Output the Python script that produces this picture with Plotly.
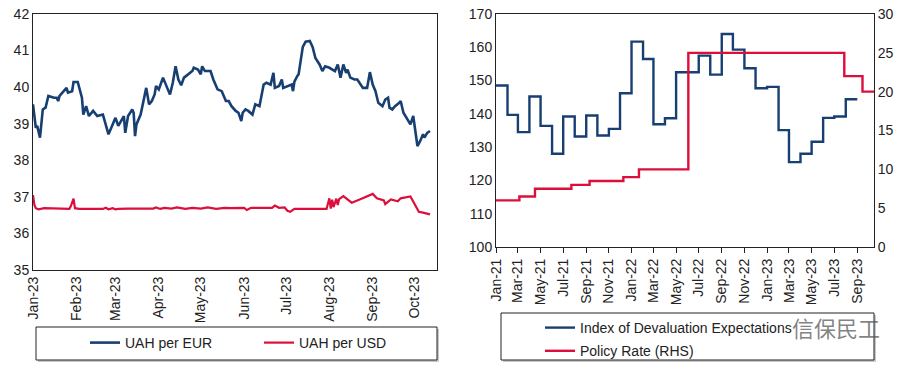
import plotly.graph_objects as go
import pandas as pd

# ---------------- data: left panel (daily FX, 2023) ----------------
eur_dates = ["2023-01-01","2023-01-03","2023-01-04","2023-01-06","2023-01-08","2023-01-10","2023-01-12",
             "2023-01-16","2023-01-18","2023-01-19","2023-01-20","2023-01-25","2023-01-26","2023-01-29",
             "2023-01-30","2023-02-02","2023-02-05","2023-02-06","2023-02-08","2023-02-10","2023-02-13",
             "2023-02-16","2023-02-20","2023-02-24","2023-02-26","2023-03-01","2023-03-03","2023-03-07",
             "2023-03-08","2023-03-10","2023-03-13","2023-03-14","2023-03-15","2023-03-16","2023-03-19",
             "2023-03-21","2023-03-23","2023-03-25","2023-03-27","2023-03-29","2023-03-30","2023-04-01",
             "2023-04-04","2023-04-07","2023-04-09","2023-04-11","2023-04-13","2023-04-15","2023-04-17",
             "2023-04-19","2023-04-22","2023-04-25","2023-04-26","2023-04-29","2023-05-01","2023-05-02",
             "2023-05-04","2023-05-08","2023-05-10","2023-05-13","2023-05-16","2023-05-19","2023-05-21",
             "2023-05-23","2023-05-26","2023-05-28","2023-05-30","2023-05-31","2023-06-02","2023-06-04",
             "2023-06-07","2023-06-09","2023-06-12","2023-06-15","2023-06-17","2023-06-20","2023-06-22",
             "2023-06-23","2023-06-26","2023-06-28","2023-06-29","2023-07-02","2023-07-05","2023-07-06",
             "2023-07-07","2023-07-09","2023-07-10","2023-07-13","2023-07-15","2023-07-18","2023-07-20",
             "2023-07-22","2023-07-25","2023-07-27","2023-07-29","2023-08-01","2023-08-03","2023-08-05",
             "2023-08-07","2023-08-09","2023-08-11","2023-08-13","2023-08-14","2023-08-16","2023-08-19",
             "2023-08-21","2023-08-25","2023-08-28","2023-08-30","2023-09-01","2023-09-03","2023-09-05",
             "2023-09-08","2023-09-10","2023-09-12","2023-09-13","2023-09-15","2023-09-17","2023-09-20",
             "2023-09-21","2023-09-23","2023-09-26","2023-09-28","2023-09-30","2023-10-01","2023-10-03",
             "2023-10-05","2023-10-07","2023-10-08","2023-10-10","2023-10-12"]
eur_values = [39.53,38.89,38.94,38.62,39.39,39.44,39.76,
              39.71,39.71,39.62,39.76,39.98,39.85,39.89,
              40.14,40.14,39.71,39.25,39.48,39.21,39.35,
              39.21,39.25,38.71,38.89,39.16,38.94,39.21,
              38.75,39.21,39.39,39.30,38.66,38.98,39.25,
              39.66,39.98,39.53,39.62,39.80,40.03,39.94,
              40.26,39.98,39.80,40.12,40.57,40.21,40.05,
              40.26,40.35,40.44,40.53,40.48,40.35,40.57,
              40.44,40.44,40.21,39.94,39.89,39.62,39.62,
              39.48,39.35,39.30,39.07,39.30,39.39,39.35,
              39.25,39.53,39.48,40.07,40.12,40.07,40.39,
              39.98,40.03,40.21,39.98,40.03,40.07,39.89,
              40.15,40.30,40.35,41.10,41.24,41.26,41.10,
              40.80,40.62,40.44,40.57,40.53,40.48,40.44,
              40.62,40.26,40.62,40.39,40.48,40.26,40.21,
              40.21,39.98,39.98,40.41,40.07,39.89,39.57,
              39.48,39.66,39.71,39.44,39.39,39.48,39.57,
              39.62,39.30,39.12,38.98,39.21,38.94,38.39,
              38.53,38.71,38.62,38.75,38.80]

usd_dates = ["2023-01-01","2023-01-02","2023-01-03","2023-01-05","2023-01-09","2023-01-12","2023-01-14",
             "2023-01-27","2023-01-28","2023-01-30","2023-01-31","2023-02-03","2023-02-20","2023-02-22",
             "2023-02-24","2023-02-27","2023-03-01","2023-03-03","2023-03-10","2023-03-28","2023-03-30",
             "2023-04-02","2023-04-05","2023-04-10","2023-04-14","2023-04-20","2023-04-25","2023-05-01",
             "2023-05-06","2023-05-12","2023-05-18","2023-05-22","2023-06-01","2023-06-03","2023-06-06",
             "2023-06-15","2023-06-21","2023-06-23","2023-06-26","2023-06-30","2023-07-02","2023-07-04",
             "2023-07-07","2023-07-30","2023-08-01","2023-08-02","2023-08-03","2023-08-04","2023-08-06",
             "2023-08-07","2023-08-08","2023-08-11","2023-08-17","2023-08-24","2023-09-01","2023-09-04",
             "2023-09-09","2023-09-10","2023-09-14","2023-09-19","2023-09-21","2023-09-28","2023-10-02",
             "2023-10-04","2023-10-07","2023-10-10","2023-10-12"]
usd_values = [37.05,36.78,36.69,36.66,36.69,36.69,36.67,
              36.67,36.74,36.95,36.69,36.67,36.67,36.70,
              36.66,36.69,36.66,36.67,36.68,36.68,36.71,
              36.67,36.70,36.68,36.71,36.67,36.70,36.68,
              36.71,36.67,36.70,36.69,36.70,36.64,36.70,
              36.69,36.70,36.76,36.70,36.71,36.62,36.59,
              36.67,36.67,36.96,36.68,36.92,36.72,36.95,
              36.78,36.94,37.02,36.84,36.95,37.08,36.96,
              36.90,36.80,36.93,36.88,36.96,37.01,36.70,
              36.59,36.57,36.55,36.52]

# ---------------- data: right panel (monthly index, policy rate) ----------------
index_months = pd.date_range("2021-01-01", "2023-08-01", freq="MS").strftime("%Y-%m-%d").tolist()
index_values = [148.5,139.7,134.5,145.2,136.4,128.0,139.2,133.2,139.5,133.5,135.5,146.2,
                161.7,156.5,136.9,138.7,152.5,152.5,157.5,151.8,164.0,159.3,153.7,147.7,
                148.1,135.1,125.5,128.0,131.6,138.8,139.2,144.4]
index_end = "2023-09-01"

rate_dates = ["2021-01-01","2021-03-05","2021-04-16","2021-07-23","2021-09-10","2021-12-10",
              "2022-01-21","2022-06-03","2023-07-28","2023-09-15"]
rate_values = [6.0,6.5,7.5,8.0,8.5,9.0,10.0,25.0,22.0,20.0]
rate_end = "2023-10-16"

BLUE = "#173f72"
RED = "#dc0f3c"
FONT = "Liberation Sans, Arial, sans-serif"
W, H = 908, 367

def px(x):
    return x / W

def py(y):
    return 1 - y / H

fig = go.Figure()

fig.add_trace(go.Scatter(x=eur_dates, y=eur_values, mode="lines", name="UAH per EUR",
                         line=dict(color=BLUE, width=2.6), xaxis="x", yaxis="y", legend="legend"))
fig.add_trace(go.Scatter(x=usd_dates, y=usd_values, mode="lines", name="UAH per USD",
                         line=dict(color=RED, width=2.2), xaxis="x", yaxis="y", legend="legend"))

fig.add_trace(go.Scatter(x=index_months + [index_end], y=index_values + [index_values[-1]],
                         mode="lines", line_shape="hv", name="Index of Devaluation Expectations",
                         legendgroup="g1",
                         line=dict(color=BLUE, width=2.4), xaxis="x2", yaxis="y2", legend="legend2"))
fig.add_trace(go.Scatter(x=rate_dates + [rate_end], y=rate_values + [rate_values[-1]],
                         mode="lines", line_shape="hv", name="Policy Rate (RHS)",
                         legendgroup="g2",
                         line=dict(color=RED, width=2.4), xaxis="x2", yaxis="y3", legend="legend2"))

tickfont = dict(family=FONT, size=14, color="#222")
axline = dict(showline=True, linecolor="#222", linewidth=1, showgrid=False, zeroline=False,
              automargin=False, tickfont=tickfont)

fig.update_layout(
    width=W, height=H,
    margin=dict(l=0, r=0, t=0, b=0),
    paper_bgcolor="white", plot_bgcolor="white",
    font=dict(family=FONT, size=14, color="#222"),
    xaxis=dict(domain=[px(33), px(437)], type="date", range=["2023-01-01", "2023-10-17"],
               dtick="M1", tick0="2023-01-01", tickformat="%b-%y", tickangle=-90,
               mirror=True, ticks="", anchor="y", **axline),
    yaxis=dict(domain=[py(270), py(14)], range=[35, 42], dtick=1, mirror=True, ticks="",
               anchor="x", **axline),
    xaxis2=dict(domain=[px(496), px(874)], type="date", range=["2021-01-01", "2023-10-16"],
                dtick="M2", tick0="2021-01-01", tickformat="%b-%y", tickangle=-90,
                mirror=True, ticks="outside", ticklen=5, tickcolor="#222", anchor="y2", **axline),
    yaxis2=dict(domain=[py(247), py(14)], range=[100, 170], dtick=10, ticks="", anchor="x2", **axline),
    yaxis3=dict(range=[0, 30], dtick=5, overlaying="y2", side="right", ticks="", anchor="x2",
                **axline),
    legend=dict(orientation="h", x=px(85), y=py(343), xanchor="left", yanchor="middle",
                bgcolor="rgba(0,0,0,0)", borderwidth=0, entrywidth=129,
                font=dict(family=FONT, size=14, color="#222")),
    legend2=dict(orientation="v", x=px(540), y=py(312), xanchor="left", yanchor="top",
                 bgcolor="rgba(0,0,0,0)", borderwidth=0, tracegroupgap=2,
                 font=dict(family=FONT, size=14, color="#222")),
    showlegend=True,
)

shapes = []
for (x0, y0, x1, y1) in [(36, 327, 437, 360), (501, 313, 874, 360)]:
    shapes.append(dict(type="rect", xref="paper", yref="paper", x0=px(x0 + 2), x1=px(x1 + 2),
                       y0=py(y1 + 2), y1=py(y0 + 2), line=dict(width=0), fillcolor="#c8c8c8",
                       layer="below"))
    shapes.append(dict(type="rect", xref="paper", yref="paper", x0=px(x0), x1=px(x1),
                       y0=py(y1), y1=py(y0), line=dict(color="#222", width=1), fillcolor="white",
                       layer="below"))
fig.update_layout(shapes=shapes)

fig.add_annotation(text="信保民工", xref="paper", yref="paper", x=px(836), y=py(327),
                   xanchor="center", yanchor="middle", showarrow=False,
                   font=dict(family="Noto Sans CJK SC", size=22, color="rgba(90,90,90,0.75)"))

fig.write_html("out.html", config={"displayModeBar": False},
               post_script="document.body.style.margin='0';")
